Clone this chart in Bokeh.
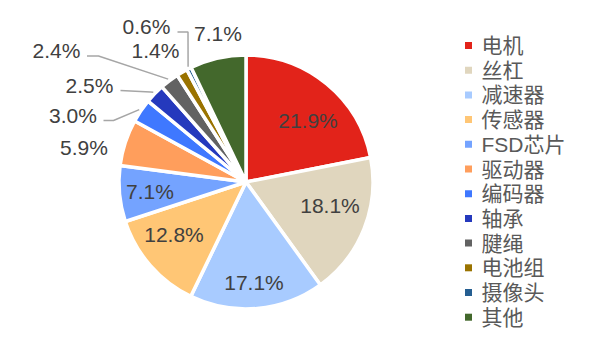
import math
from bokeh.plotting import figure
from bokeh.models import Range1d, ColumnDataSource
from bokeh.core.properties import value
from bokeh.embed import file_html
from bokeh.resources import INLINE

# ---- data ----
categories = ["电机", "丝杠", "减速器", "传感器", "FSD芯片", "驱动器", "编码器", "轴承", "腱绳", "电池组", "摄像头", "其他"]
shares = [21.9, 18.1, 17.1, 12.8, 7.1, 5.9, 3.0, 2.5, 2.4, 1.4, 0.6, 7.1]
labels = ["21.9%", "18.1%", "17.1%", "12.8%", "7.1%", "5.9%", "3.0%", "2.5%", "2.4%", "1.4%", "0.6%", "7.1%"]
colors = ["#E2231A", "#E0D6BE", "#A8CBFF", "#FFC675", "#74A3FF", "#FF9E5C",
          "#3F78FF", "#2539BD", "#626262", "#9A7300", "#255E91", "#43682C"]

# ---- layout (pixels, pie centre at 0,0) ----
W, H = 596, 342
CX, CY = 245.5, 181.5      # centre inside the plot frame (from left / from top)
R = 127.0
FONT = "Liberation Sans, Arial, Noto Sans CJK SC"
LEG_FONT = "Liberation Sans, Noto Sans CJK SC"

# data-label placement (Excel-like positioned labels), relative to pie centre
label_pos = [(62, 62), (84, -23.5), (8, -100), (-72, -52.5), (-96, -9),
             (-162, 34.5), (-173, 67), (-156.5, 97), (-189.5, 132),
             (-90.5, 132), (-99.5, 155.5), (-28, 149)]
# leader lines: index -> list of points before the wedge edge
leaders = {6: [(-142.5, 61.5), (-132.5, 61.5)],
           7: [(-125.5, 91.5), (-95.5, 90)],
           8: [(-159, 126), (-147.5, 126)],
           10: [(-68.5, 150), (-58, 150)]}

total = sum(shares)
starts, ends, mids = [], [], []
acc = 0.0
for s in shares:
    a0 = math.pi / 2 - 2 * math.pi * acc / total
    acc += s
    a1 = math.pi / 2 - 2 * math.pi * acc / total
    starts.append(a1)
    ends.append(a0)
    mids.append((a0 + a1) / 2)

p = figure(width=W, height=H, output_backend="svg", toolbar_location=None,
           x_range=Range1d(-CX, W - CX), y_range=Range1d(CY - H, CY),
           min_border=0, outline_line_color=None)
p.axis.visible = False
p.grid.visible = False
p.background_fill_color = "white"
p.border_fill_color = "white"

src = ColumnDataSource(dict(start=starts, end=ends, color=colors))
p.wedge(x=0, y=0, radius=R, start_angle="start", end_angle="end",
        fill_color="color", line_color="white", line_width=3.5, source=src)

# leader lines
for i, pts in leaders.items():
    ex = (R + 2) * math.cos(mids[i])
    ey = (R + 2) * math.sin(mids[i])
    xs = [q[0] for q in pts] + [ex]
    ys = [q[1] for q in pts] + [ey]
    p.line(xs, ys, line_color="#A6A6A6", line_width=1.5)

# labels
lx = [q[0] for q in label_pos]
ly = [q[1] for q in label_pos]
p.text(x=lx, y=ly, text=labels, text_font=value(FONT), text_font_size="21px",
       text_color="#404040", text_align="center", text_baseline="middle")

# legend
leg_x0 = 468 - CX
leg_y0 = CY - 45
step = 24.7
ly2 = [leg_y0 - k * step for k in range(len(categories))]
p.scatter(x=[leg_x0] * len(categories), y=ly2, marker="square", size=7,
          fill_color=colors, line_color=None)
p.text(x=[leg_x0 + 13] * len(categories), y=ly2, text=categories,
       text_font=value(LEG_FONT), text_font_size="21px", text_color="#595959",
       text_align="left", text_baseline="middle")

open("out.html", "w").write(file_html(p, INLINE))
